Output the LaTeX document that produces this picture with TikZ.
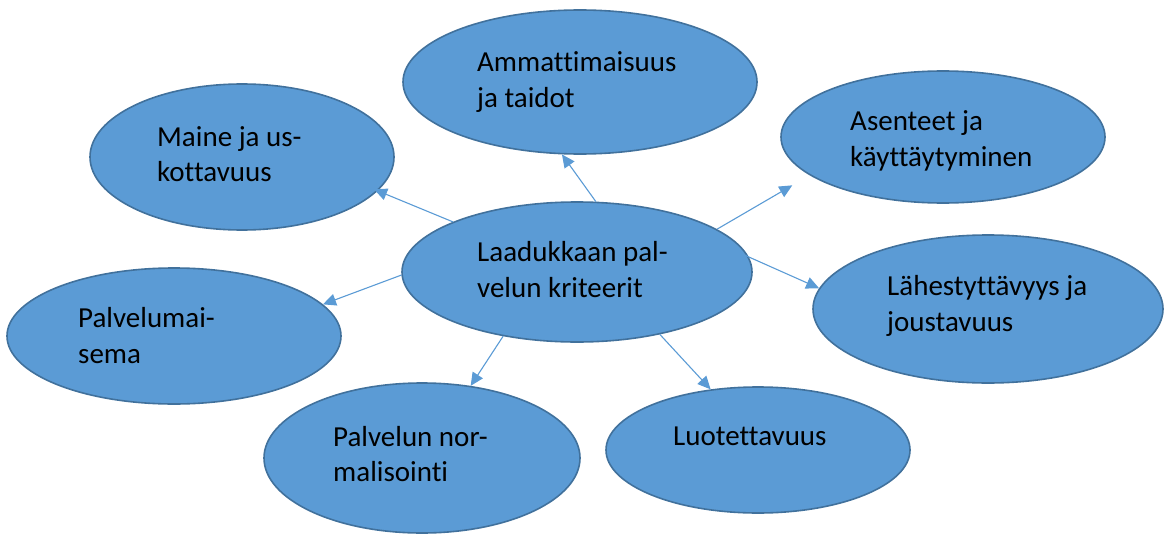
\documentclass[tikz,border=0pt]{standalone}
\usepackage{fontspec}
\setmainfont{Carlito}[Ligatures={NoCommon}]
\usetikzlibrary{shapes.geometric,arrows.meta}
\definecolor{ellfill}{HTML}{5B9BD5}
\definecolor{elldraw}{HTML}{41719C}
\definecolor{arrowcol}{HTML}{5B9BD5}
\tikzset{
  bubble/.style={ellipse, fill=ellfill, draw=elldraw, line width=1.6pt, inner sep=0pt},
  label text/.style={anchor=base west, inner sep=0pt, align=left, text=black,
    font=\fontsize{29pt}{35.5pt}\selectfont},
  conn/.style={draw=arrowcol, line width=1.1pt, -{Triangle[length=13pt,width=12pt]}}
}
\begin{document}
\begin{tikzpicture}[x=1pt,y=-1pt]
\useasboundingbox (0,0) rectangle (1164,535);
% ellipses
\node[bubble, minimum width=354pt, minimum height=144pt] (top) at (580,82) {};
\node[bubble, minimum width=304pt, minimum height=146pt] (maine) at (242,157) {};
\node[bubble, minimum width=324pt, minimum height=132pt] (asen) at (943,137) {};
\node[bubble, minimum width=350pt, minimum height=140pt] (center) at (577,272) {};
\node[bubble, minimum width=350pt, minimum height=148pt] (lahe) at (988,309) {};
\node[bubble, minimum width=334pt, minimum height=136pt] (maisema) at (174,336) {};
\node[bubble, minimum width=316pt, minimum height=150pt] (norm) at (422,458) {};
\node[bubble, minimum width=304pt, minimum height=126pt] (luot) at (758,450) {};
% texts (anchor = baseline of the last line)
\node[label text] (topt) at (477,107) {Ammattimaisuus\\ja taidot};
\node[label text] (mainet) at (157,181.5) {Maine ja us-\\kottavuus};
\node[label text] (asent) at (850,166) {Asenteet ja\\käyttäytyminen};
\node[label text] (centert) at (477,297) {Laadukkaan pal-\\velun kriteerit};
\node[label text] (lahet) at (887,331) {Lähestyttävyys ja\\joustavuus};
\node[label text] (maisemat) at (78,363) {Palvelumai-\\sema};
\node[label text] (normt) at (333,481.5) {Palvelun nor-\\malisointi};
\node[label text] (luott) at (673,445) {Luotettavuus};
% connectors
\draw[conn] (center.75) -- (top.256.7);
\draw[conn, shorten >=-4pt] (center.158.6) -- (maine.346.8);
\draw[conn, shorten >=20pt] (center.17.7) -- (asen.196.6);
\draw[conn, shorten <=-6pt] (center.5.2) -- (lahe.173.5);
\draw[conn] (center.181) -- (maisema.12.9);
\draw[conn] (center.221.6) -- (norm.56.7);
\draw[conn] (center.323.8) -- (luot.128.4);
\end{tikzpicture}
\end{document}
